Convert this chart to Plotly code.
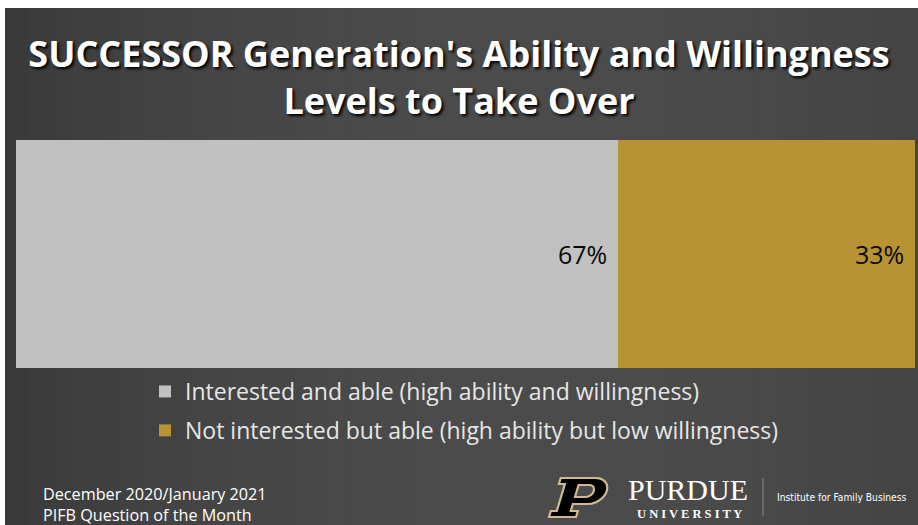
import plotly.graph_objects as go
import math

categories = ["Successor"]
series_names = ["Interested and able (high ability and willingness)",
                "Not interested but able (high ability but low willingness)"]
series_values = [67, 33]
value_labels = ["67%", "33%"]
colors = ["#c1c1c1", "#b89333"]

W, H = 918, 525
ML, MR, MT, MB = 16, 3, 140, 157

fig = go.Figure()
for name, val, col in zip(series_names, series_values, colors):
    fig.add_trace(go.Bar(
        y=categories, x=[val], name=name, orientation="h", legendgroup=name,
        marker=dict(color=col, line=dict(width=0)),
        hoverinfo="skip",
    ))

def px_x(p):
    return (p - ML) / (W - ML - MR)

def px_y(p):
    return (H - MB - p) / (H - MT - MB)

shapes = []
n = 40
x0, x1 = 5, W
for i in range(n):
    t = i / (n - 1)
    v = int(54 + 22 * math.sin(math.pi * min(1.0, t * 0.75 + 0.05)) ** 0.8)
    c = f"rgb({v},{v},{v})"
    shapes.append(dict(type="rect", xref="paper", yref="paper", layer="below",
                       x0=px_x(x0 + (x1 - x0) * i / n), x1=px_x(x0 + (x1 - x0) * (i + 1) / n + 1),
                       y0=px_y(H), y1=px_y(8), line=dict(width=0), fillcolor=c))
shapes.append(dict(type="line", xref="paper", yref="paper",
                   x0=px_x(763), x1=px_x(763), y0=px_y(516), y1=px_y(478),
                   line=dict(color="#8a8a8a", width=1)))

# Purdue block "P" logo (decorative path)
LX, LY, HH, SK = 549, 478, 39, 0.3
def lp(x, y):
    return f"{px_x(LX + x + (HH - y) * SK):.5f},{px_y(LY + y):.5f}"
outer = [(0, 39), (27, 39), (27, 33), (20, 33), (20, 26), (35, 26)]
for k in range(1, 12):
    a = math.pi / 2 - math.pi * k / 12
    outer.append((35 + 15 * math.cos(a), 13 + 13 * math.sin(a)))
outer += [(35, 0), (0, 0), (0, 6), (6, 6), (6, 33), (0, 33)]
hole = [(20, 7), (31, 7)]
for k in range(1, 8):
    a = math.pi / 2 - math.pi * k / 8
    hole.append((31 + 6 * math.cos(a), 13 - 6 * math.sin(a)))
hole += [(31, 19), (20, 19)]
path = "M" + " L".join(lp(x, y) for x, y in outer) + " Z M" + " L".join(lp(x, y) for x, y in hole) + " Z"
shapes.append(dict(type="path", xref="paper", yref="paper", path=path, fillrule="evenodd",
                   fillcolor="#000000", line=dict(color="#cfb991", width=2.2)))

annotations = []
cum = 0
for val, lab in zip(series_values, value_labels):
    cum += val
    annotations.append(dict(text=lab, x=cum, y=categories[0], xref="x", yref="y",
                            xanchor="right", yanchor="middle", xshift=-9, showarrow=False,
                            font=dict(family="Open Sans", size=25, color="#0a0a0a")))

annotations += [
    dict(text="December 2020/January 2021<br>PIFB Question of the Month",
         xref="paper", yref="paper", x=px_x(41), y=px_y(481), xanchor="left", yanchor="top",
         align="left", showarrow=False,
         font=dict(family="Open Sans", size=16.2, color="#ffffff")),
    dict(text="PURDUE", xref="paper", yref="paper", x=px_x(688), y=px_y(489),
         xanchor="center", yanchor="middle", showarrow=False,
         font=dict(family="Liberation Serif", size=30, color="#ffffff")),
    dict(text="U N I V E R S I T Y", xref="paper", yref="paper", x=px_x(689), y=px_y(514),
         xanchor="center", yanchor="middle", showarrow=False,
         font=dict(family="Liberation Serif", size=12.5, color="#ffffff", weight="bold")),
    dict(text="Institute for Family Business", xref="paper", yref="paper", x=px_x(775), y=px_y(497),
         xanchor="left", yanchor="middle", showarrow=False,
         font=dict(family="DejaVu Sans Condensed", size=10.2, color="#ffffff")),
]

fig.update_layout(
    width=W, height=H,
    margin=dict(l=ML, r=MR, t=MT, b=MB, pad=0),
    paper_bgcolor="#ffffff", plot_bgcolor="rgba(0,0,0,0)",
    barmode="stack", bargap=0,
    title=dict(text="<b>SUCCESSOR Generation's Ability and Willingness<br>Levels to Take Over</b>",
               x=0.5, xanchor="center", y=1 - 67 / H, yanchor="middle",
               font=dict(family="Open Sans", size=36, color="#ffffff",
                         shadow="2px 2px 3px #000000")),
    xaxis=dict(range=[0, 100], visible=False, fixedrange=True),
    yaxis=dict(visible=False, fixedrange=True),
    showlegend=True,
    legend=dict(x=px_x(145), y=px_y(370), xanchor="left", yanchor="top",
                orientation="v", traceorder="grouped", bgcolor="rgba(0,0,0,0)",
                font=dict(family="Open Sans", size=23, color="#e6e6e6"),
                itemwidth=30, tracegroupgap=6),
    shapes=shapes, annotations=annotations,
)

fig.write_html("out.html", config={"displayModeBar": False})
